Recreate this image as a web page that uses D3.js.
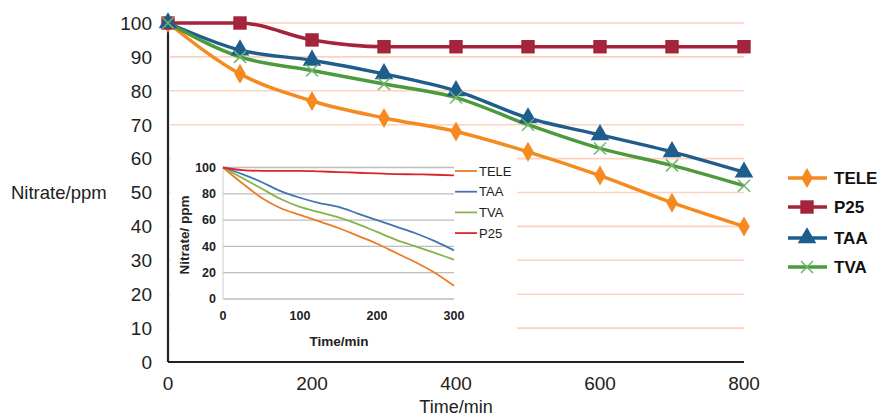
<!DOCTYPE html>
<html>
<head>
<meta charset="utf-8">
<script src="https://cdn.jsdelivr.net/npm/d3@7"></script>
<style>
body{margin:0;background:#fff;}
svg{display:block;font-family:"Liberation Sans",Arial,sans-serif;}
</style>
</head>
<body>
<div id="chart"></div>
<script>
// main chart data
var times=[0,100,200,300,400,500,600,700,800];
var tele=[100,85,77,72,68,62,55,47,40];
var p25=[100,100,95,93,93,93,93,93,93];
var taa=[100,92,89,85,80,72,67,62,56];
var tva=[100,90,86,82,78,70,63,58,52];
var yTicks=[0,10,20,30,40,50,60,70,80,90,100];
var xTicks=[0,200,400,600,800];

// inset data
var inTimes=[0,25,50,75,100,125,150,175,200,225,250,275,300];
var inTele=[100,88,77,69,64,59,54,48,42,35,28,20,10];
var inTaa=[100,95,89,82,77,73,70,65,60,55,50,44,37];
var inTva=[100,92,84,76,70,66,62,57,51,45,40,35,30];
var inP25=[100,98,97.5,97.5,97.5,97,96.5,96,95.5,95,94.8,94.5,94];
var inYTicks=[0,20,40,60,80,100];
var inXTicks=[0,100,200,300];

var W=877,H=416;
var svg=d3.select("#chart").append("svg").attr("width",W).attr("height",H);

var x=d3.scaleLinear().domain([0,800]).range([168,744]);
var y=d3.scaleLinear().domain([0,100]).range([362,23]);

// gridlines
svg.selectAll("line.grid").data(yTicks.filter(function(d){return d>0;})).enter().append("line")
	.attr("class","grid")
	.attr("x1",x(0)+2).attr("x2",x(800))
	.attr("y1",function(d){return y(d);}).attr("y2",function(d){return y(d);})
	.attr("stroke","#fdd3bd").attr("stroke-width",1.6);

// axes
svg.append("line").attr("x1",x(0)).attr("x2",x(0)).attr("y1",y(100)).attr("y2",y(0))
	.attr("stroke","#222").attr("stroke-width",2.2);
svg.append("line").attr("x1",x(0)).attr("x2",x(800)).attr("y1",y(0)).attr("y2",y(0))
	.attr("stroke","#222").attr("stroke-width",2.2);

svg.selectAll("text.ytick").data(yTicks).enter().append("text")
	.attr("class","ytick").attr("x",152).attr("y",function(d){return y(d);})
	.attr("dy","0.36em").attr("text-anchor","end").attr("font-size",19).attr("fill","#222")
	.text(function(d){return d;});
svg.selectAll("text.xtick").data(xTicks).enter().append("text")
	.attr("class","xtick").attr("x",function(d){return x(d);}).attr("y",390)
	.attr("text-anchor","middle").attr("font-size",19).attr("fill","#222")
	.text(function(d){return d;});
svg.append("text").attr("x",456).attr("y",413).attr("text-anchor","middle")
	.attr("font-size",18).attr("fill","#222").text("Time/min");
svg.append("text").attr("x",11).attr("y",199)
	.attr("font-size",18.5).attr("fill","#222").text("Nitrate/ppm");

// series
var series=[
	{name:"TELE",vals:tele,color:"#f58a1f",mark:"diamond"},
	{name:"P25",vals:p25,color:"#a3243b",mark:"square"},
	{name:"TAA",vals:taa,color:"#1f5d8c",mark:"triangle"},
	{name:"TVA",vals:tva,color:"#4b9a3c",mark:"x"}
];
var line=d3.line().x(function(d,i){return x(times[i]);}).y(function(d){return y(d);})
	.curve(d3.curveMonotoneX);

function marker(g,type,color,cx,cy){
	if(type=="x"){
		g.append("path").attr("d","M-6,-6L6,6M-6,6L6,-6")
			.attr("transform","translate("+cx+","+cy+")")
			.attr("stroke","#6fb56a").attr("stroke-width",1.5).attr("fill","none");
		return;
	}
	var sym={diamond:d3.symbolDiamond,square:d3.symbolSquare,triangle:d3.symbolTriangle}[type];
	var size={diamond:115,square:180,triangle:150}[type];
	g.append("path").attr("d",d3.symbol().type(sym).size(size)())
		.attr("transform","translate("+cx+","+cy+")").attr("fill",color);
}

// inset panel with white background over the gridlines
var inset=svg.append("g");
inset.append("rect").attr("x",171).attr("y",150).attr("width",346).attr("height",201).attr("fill","#fff");

var ix=d3.scaleLinear().domain([0,300]).range([223,454]);
var iy=d3.scaleLinear().domain([0,100]).range([299,167.5]);
inset.selectAll("line.igrid").data(inYTicks).enter().append("line")
	.attr("class","igrid")
	.attr("x1",ix(0)).attr("x2",ix(300))
	.attr("y1",function(d){return iy(d);}).attr("y2",function(d){return iy(d);})
	.attr("stroke","#bdbdbd").attr("stroke-width",1.3);
inset.append("line").attr("x1",ix(0)).attr("x2",ix(0)).attr("y1",iy(100)).attr("y2",iy(0))
	.attr("stroke","#cfcfcf").attr("stroke-width",1);
inset.selectAll("text.iytick").data(inYTicks).enter().append("text")
	.attr("class","iytick").attr("x",216).attr("y",function(d){return iy(d);})
	.attr("dy","0.35em").attr("text-anchor","end").attr("font-size",12.5).attr("font-weight","bold")
	.attr("fill","#222").text(function(d){return d;});
inset.selectAll("text.ixtick").data(inXTicks).enter().append("text")
	.attr("class","ixtick").attr("x",function(d){return ix(d);}).attr("y",320)
	.attr("text-anchor","middle").attr("font-size",12.5).attr("font-weight","bold")
	.attr("fill","#222").text(function(d){return d;});
inset.append("text").attr("x",339).attr("y",346).attr("text-anchor","middle")
	.attr("font-size",13.5).attr("font-weight","bold").attr("fill","#222").text("Time/min");
inset.append("text").attr("transform","translate(189,235) rotate(-90)").attr("text-anchor","middle")
	.attr("font-size",13.5).attr("font-weight","bold").attr("fill","#222").text("Nitrate/ ppm");

var inSeries=[
	{name:"TELE",vals:inTele,color:"#ef7a25"},
	{name:"TAA",vals:inTaa,color:"#4474b0"},
	{name:"TVA",vals:inTva,color:"#86b34a"},
	{name:"P25",vals:inP25,color:"#d9242b"}
];
var iline=d3.line().x(function(d,i){return ix(inTimes[i]);}).y(function(d){return iy(d);})
	.curve(d3.curveMonotoneX);
inset.selectAll("path.iline").data(inSeries).enter().append("path")
	.attr("class","iline").attr("d",function(d){return iline(d.vals);})
	.attr("fill","none").attr("stroke",function(d){return d.color;}).attr("stroke-width",1.8);
var ileg=inset.selectAll("g.ileg").data(inSeries).enter().append("g")
	.attr("class","ileg").attr("transform",function(d,i){return "translate(455,"+(171+i*20.7)+")";});
ileg.append("line").attr("x1",0).attr("x2",22).attr("stroke",function(d){return d.color;}).attr("stroke-width",1.8);
ileg.append("text").attr("x",24).attr("dy","0.35em").attr("font-size",13).attr("fill","#222")
	.text(function(d){return d.name;});

// main lines and markers
var mg=svg.append("g");
series.forEach(function(s){
	mg.append("path").attr("d",line(s.vals)).attr("fill","none")
		.attr("stroke",s.color).attr("stroke-width",3.5);
});
series.forEach(function(s){
	s.vals.forEach(function(v,i){ marker(mg,s.mark,s.color,x(times[i]),y(v)); });
});

// legend
var legY=[178,207,238,267];
series.forEach(function(s,i){
	var g=svg.append("g").attr("transform","translate(0,"+legY[i]+")");
	g.append("line").attr("x1",788).attr("x2",827).attr("stroke",s.color).attr("stroke-width",3.5);
	marker(g,s.mark,s.color,807,0);
	g.append("text").attr("x",834).attr("dy","0.36em").attr("font-size",17).attr("font-weight","bold")
		.attr("fill","#111").text(s.name);
});
</script>
</body>
</html>
